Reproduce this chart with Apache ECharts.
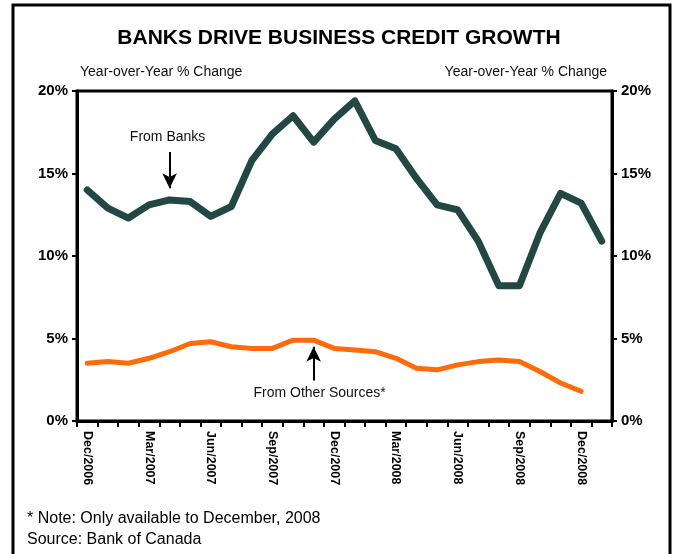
<!DOCTYPE html>
<html>
<head>
<meta charset="utf-8">
<script src="https://cdn.jsdelivr.net/npm/echarts@6/dist/echarts.min.js"></script>
<style>
html,body{margin:0;padding:0;background:#fff;}
#chart{width:678px;height:554px;}
</style>
</head>
<body>
<div id="chart"></div>
<script>
var categories = ['Dec/2006','Jan/2007','Feb/2007','Mar/2007','Apr/2007','May/2007','Jun/2007','Jul/2007','Aug/2007','Sep/2007','Oct/2007','Nov/2007','Dec/2007','Jan/2008','Feb/2008','Mar/2008','Apr/2008','May/2008','Jun/2008','Jul/2008','Aug/2008','Sep/2008','Oct/2008','Nov/2008','Dec/2008','Jan/2009'];
var fromBanks = [14.0, 12.9, 12.3, 13.1, 13.4, 13.3, 12.4, 13.0, 15.8, 17.4, 18.5, 16.9, 18.3, 19.4, 17.0, 16.5, 14.7, 13.1, 12.8, 10.9, 8.2, 8.2, 11.4, 13.8, 13.2, 10.9];
var fromOther = [3.5, 3.6, 3.5, 3.8, 4.2, 4.7, 4.8, 4.5, 4.4, 4.4, 4.9, 4.9, 4.4, 4.3, 4.2, 3.8, 3.2, 3.1, 3.4, 3.6, 3.7, 3.6, 3.0, 2.3, 1.8, null];
var yTicks = {min: 0, max: 20, interval: 5};
var titleText = 'BANKS DRIVE BUSINESS CREDIT GROWTH';
var axisName = 'Year-over-Year % Change';
var noteLines = ['* Note: Only available to December, 2008', 'Source: Bank of Canada'];

var FONT = '"Liberation Sans", Arial, sans-serif';
var chart = echarts.init(document.getElementById('chart'), null, {renderer: 'canvas'});

function yAxisCfg(pos) {
  return {
    type: 'value', position: pos,
    min: yTicks.min, max: yTicks.max, interval: yTicks.interval,
    name: axisName, nameLocation: 'end', nameGap: 12,
    nameTextStyle: {fontFamily: FONT, fontSize: 14, color: '#111', align: pos === 'left' ? 'left' : 'right',
      padding: pos === 'left' ? [0, 0, 0, 3] : [0, 5, 0, 0]},
    axisLine: {show: true, lineStyle: {color: '#000', width: 3}},
    axisTick: {show: true, length: 5, lineStyle: {color: '#000', width: 2}},
    axisLabel: {formatter: '{value}%', fontFamily: FONT, fontSize: 15, fontWeight: 'bold', color: '#000', margin: 9},
    splitLine: {show: false}
  };
}

chart.setOption({
  animation: false,
  backgroundColor: '#fff',
  title: {
    text: titleText, left: 'center', top: 23,
    textStyle: {fontFamily: FONT, fontSize: 21, fontWeight: 'bold', color: '#000'}
  },
  grid: {left: 77, right: 66, top: 91, bottom: 133, show: true, borderColor: '#000', borderWidth: 3, backgroundColor: 'transparent'},
  xAxis: {
    type: 'category', data: categories, boundaryGap: true,
    axisLine: {show: true, lineStyle: {color: '#000', width: 3}},
    axisTick: {show: true, interval: 0, length: 6, lineStyle: {color: '#000', width: 2}},
    axisLabel: {interval: 2, rotate: -90, fontFamily: FONT, fontSize: 12.5, fontWeight: 'bold', color: '#000', margin: 10}
  },
  yAxis: [yAxisCfg('left'), yAxisCfg('right')],
  series: [
    {
      name: 'From Banks', type: 'line', data: fromBanks, yAxisIndex: 0,
      symbol: 'none', lineStyle: {color: '#234843', width: 7, cap: 'round', join: 'round'},
      markLine: {
        silent: true, symbol: ['none', 'arrow'], symbolSize: [11, 15],
        label: {show: false},
        lineStyle: {color: '#000', width: 2, type: 'solid'},
        data: [[{coord: [4, 16.3]}, {coord: [4, 14.1]}]]
      },
      markPoint: {
        silent: true, symbolSize: 0,
        label: {show: true, position: 'inside', formatter: 'From Banks', fontFamily: FONT, fontSize: 14, color: '#111', offset: [-2, 0]},
        data: [{coord: [4, 17.2]}]
      }
    },
    {
      name: 'From Other Sources', type: 'line', data: fromOther, yAxisIndex: 0,
      symbol: 'none', lineStyle: {color: '#ff6a0a', width: 5, cap: 'round', join: 'round'},
      markLine: {
        silent: true, symbol: ['none', 'arrow'], symbolSize: [11, 15],
        label: {show: false},
        lineStyle: {color: '#000', width: 2, type: 'solid'},
        data: [[{coord: [11, 2.45]}, {coord: [11, 4.5]}]]
      },
      markPoint: {
        silent: true, symbolSize: 0,
        label: {show: true, position: 'inside', formatter: 'From Other Sources*', fontFamily: FONT, fontSize: 14, color: '#111', offset: [6, 0]},
        data: [{coord: [11, 1.67]}]
      }
    }
  ],
  graphic: [
    {type: 'rect', shape: {x: 13, y: 5, width: 657, height: 560}, style: {fill: 'none', stroke: '#000', lineWidth: 3}, z: 100},
    {type: 'text', left: 27, top: 511, style: {text: noteLines[0], font: '16px ' + FONT, fill: '#000'}},
    {type: 'text', left: 27, top: 532, style: {text: noteLines[1], font: '16px ' + FONT, fill: '#000'}}
  ]
});
</script>
</body>
</html>
